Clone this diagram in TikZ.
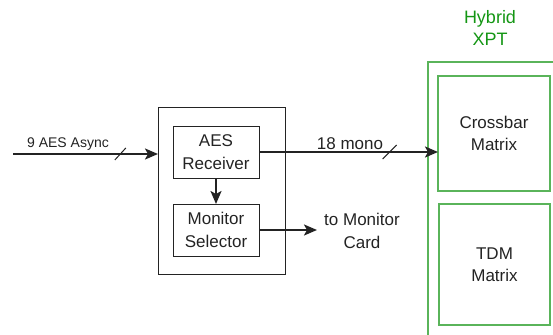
\documentclass[tikz,border=0pt]{standalone}
\usepackage{fontspec}
\setmainfont{Liberation Sans}
\usetikzlibrary{arrows.meta}
\definecolor{dk}{RGB}{35,35,35}
\definecolor{gtext}{RGB}{20,150,20}
\definecolor{gline}{RGB}{90,180,90}
\tikzset{
  blk/.style={draw=dk, line width=1pt, minimum width=#1, inner sep=0pt, outer sep=0pt},
  gbox/.style={draw=gline, line width=1.4pt, inner sep=0pt, outer sep=0pt},
  lbl/.style={font=\fontsize{17}{22.5}\selectfont, text=dk, align=center},
  arr/.style={draw=dk, line width=2pt, -{Stealth[length=13pt,width=11pt,inset=3pt]}},
  slashln/.style={draw=dk, line width=1pt}
}
\begin{document}
\begin{tikzpicture}[x=1pt,y=-1pt]
\useasboundingbox (0,0) rectangle (553,334);
\clip (0,0) rectangle (553,334);
% receiver block
\node[blk=127pt, minimum height=167pt] (outer) at (221.5,190.5) {};
\node[blk=86pt, minimum height=52pt, lbl] (aes) at (216,152) {AES\\Receiver};
\node[blk=86pt, minimum height=52pt, lbl] (mon) at (216,230) {Monitor\\Selector};
% hybrid XPT
\node[gbox, minimum width=132pt, minimum height=278pt] (xpt) at (494,201) {};
\node[gbox, minimum width=112pt, minimum height=115pt, lbl] (xbar) at (494,133.5) {Crossbar\\Matrix};
\node[gbox, minimum width=111pt, minimum height=121pt, lbl] (tdm) at (494.5,264.5) {TDM\\Matrix};
\node[font=\fontsize{18}{22.7}\selectfont, text=gtext, align=center] (hyb) at (490,28) {Hybrid\\XPT};
% input
\coordinate (in) at (13,154);
\draw[arr] (in) -- coordinate[pos=0.74] (s1) (in -| outer.west);
\draw[slashln] ([shift={(-5.5,6)}]s1) -- ([shift={(5.5,-6)}]s1);
\node[font=\fontsize{14}{17}\selectfont, text=dk, anchor=base] (inlbl) at (68,147) {9 AES Async};
% 18 mono
\draw[arr] (aes.east) -- coordinate[pos=0.73] (s2) (aes.east -| xbar.west);
\draw[slashln] ([shift={(-7,7)}]s2) -- ([shift={(7,-7)}]s2);
\node[lbl, anchor=base] (monolbl) at (350,149) {18 mono};
% internal
\draw[arr] (aes.south) -- (mon.north);
% monitor out
\coordinate (mc) at (317,230);
\draw[arr] (mon.east) -- (mc);
\node[lbl] (mcl) at (362,231) {to Monitor\\Card};
\end{tikzpicture}
\end{document}
